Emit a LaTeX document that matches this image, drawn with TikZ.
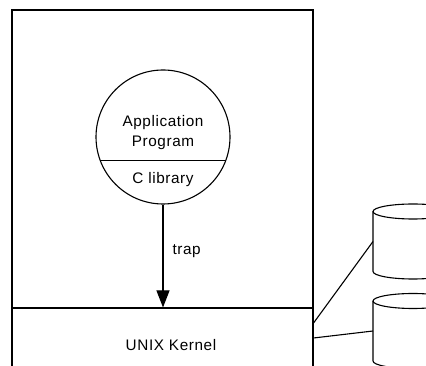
\documentclass[tikz,border=0pt]{standalone}
\usepackage{fontspec}
\setsansfont{Liberation Sans}[LetterSpace=4]
\usepackage{tikz}
\usetikzlibrary{calc,arrows.meta,positioning}

\tikzset{
  disk/.pic={
    \draw (-40,30) -- (-40,-30) arc[start angle=180, end angle=360, x radius=40, y radius=7.5] -- (40,30);
    \draw (0,30) ellipse[x radius=40, y radius=7.5];
    \coordinate (-west) at (-40,0);
  }
}

\begin{document}
\begin{tikzpicture}[x=1pt, y=1pt,
    line width=1.1pt,
    lbl/.style={font=\sffamily\fontsize{15.3}{20}\selectfont, align=center, inner sep=0pt},
    part/.style={draw, rectangle, minimum width=301pt, inner sep=0pt}]
  \useasboundingbox (0,0) rectangle (426,366);
  \clip (0,0) rectangle (426,366);
  % user space and kernel
  \node[part, minimum height=298pt] (user) at (162.5,207) {};
  \node[part, minimum height=74pt] (kernel) at (162.5,21) {};
  \node[lbl] (ktext) at ($(kernel.center)+(8.5,0)$) {UNIX Kernel};
  % process with its library
  \node[draw, circle, minimum size=134pt, inner sep=0pt] (app) at (163,229) {};
  \draw (app.200) -- (app.340);
  \node[lbl] (prog) at ($(app.center)+(0,4)$) {Application\\Program};
  \node[lbl] (clib) at ($(app.center)+(0,-43)$) {C library};
  \draw[-{Triangle[width=13pt,length=17pt]}] (app.south) -- (app.south |- kernel.north)
    node[lbl, pos=0.45, right=9pt] (trap) {trap};
  % disks
  \pic (disk1) at (413,124.5) {disk};
  \pic (disk2) at (413,35) {disk};
  \draw ($(kernel.east)+(0,22)$) -- (disk1-west);
  \draw ($(kernel.east)+(0,7)$) -- (disk2-west);
\end{tikzpicture}
\end{document}
